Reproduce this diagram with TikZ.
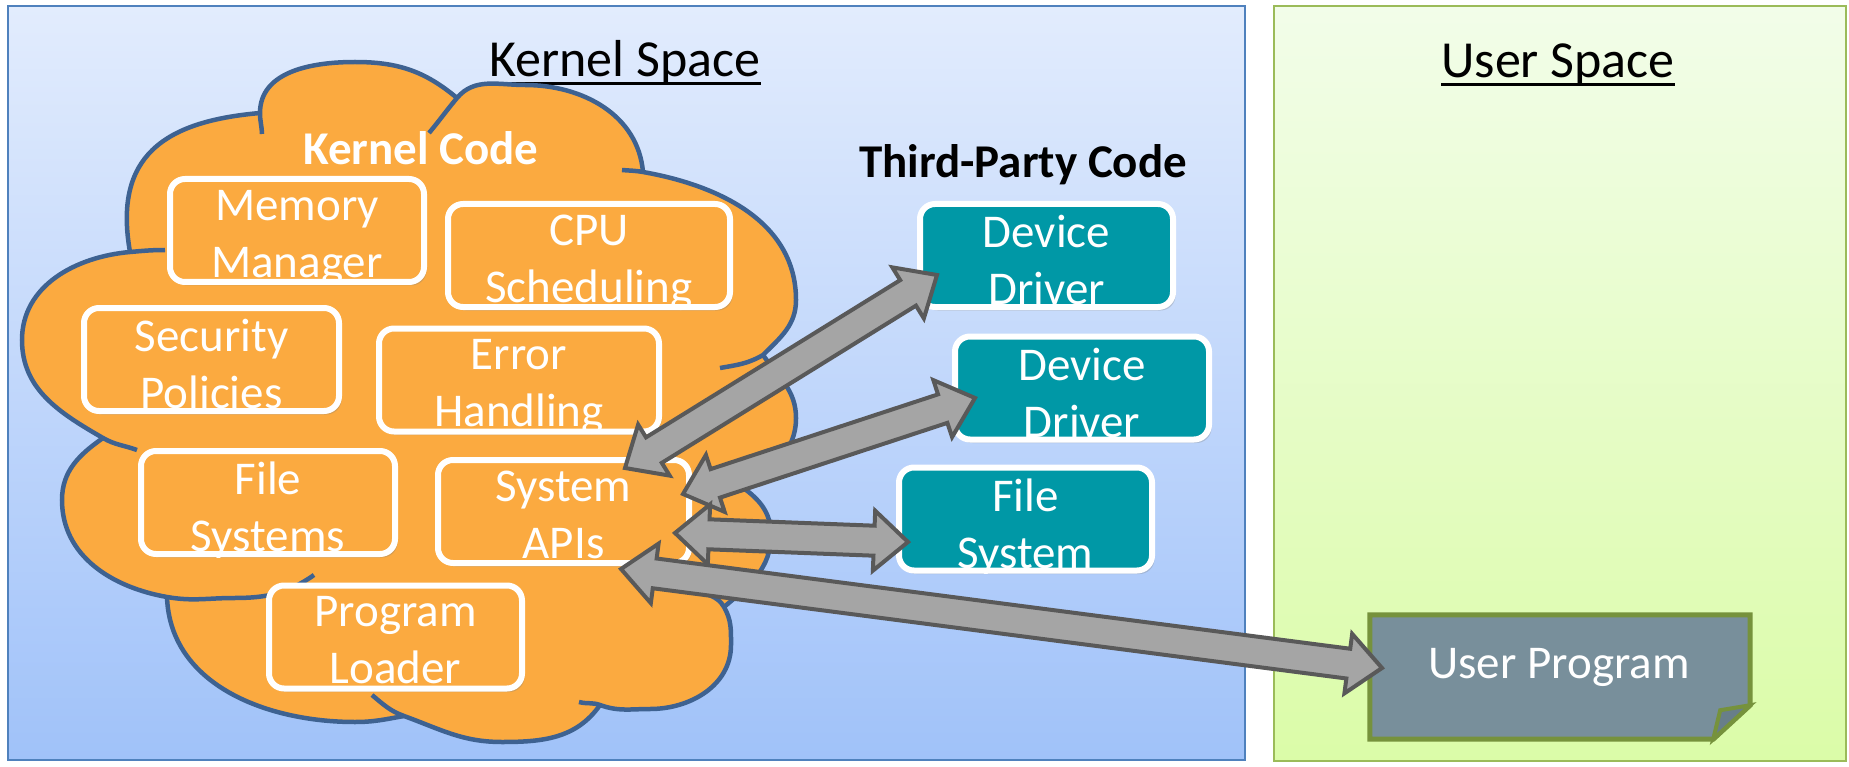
\documentclass[tikz,border=0pt]{standalone}
\usepackage{fontspec}
\setmainfont{Carlito}
\usetikzlibrary{calc,shadows}

\definecolor{kspTop}{RGB}{226,236,253}
\definecolor{kspBot}{RGB}{160,194,249}
\definecolor{kspLine}{RGB}{79,129,189}
\definecolor{uspTop}{RGB}{242,253,233}
\definecolor{uspBot}{RGB}{219,252,168}
\definecolor{uspLine}{RGB}{155,187,89}
\definecolor{cloudFill}{RGB}{251,170,64}
\definecolor{cloudLine}{RGB}{62,98,145}
\definecolor{tpTeal}{RGB}{0,152,166}
\definecolor{arrFill}{RGB}{165,165,165}
\definecolor{arrLine}{RGB}{89,89,89}
\definecolor{upFill}{RGB}{120,143,155}
\definecolor{upFold}{RGB}{104,126,138}
\definecolor{upLine}{RGB}{118,146,60}

\tikzset{
  panel/.style={inner sep=0pt, line width=2pt},
  title/.style={inner sep=0pt, anchor=base, font=\fontsize{52}{62}\selectfont},
  heading/.style={inner sep=0pt, anchor=base, font=\fontsize{47}{56}\selectfont\bfseries},
  modbox/.style={draw=white, line width=6pt, rounded corners=15pt, minimum height=103pt,
    inner sep=0pt, drop shadow={shadow xshift=2.5pt, shadow yshift=-3.5pt, opacity=0.3}},
  kbox/.style={modbox, fill=cloudFill},
  tbox/.style={modbox, fill=tpTeal},
  boxtext/.style={text=white, align=center, inner sep=0pt, anchor=north,
    font=\fontsize{47}{57}\selectfont},
  cloudedge/.style={draw=cloudLine, line width=4.5pt, line cap=butt},
  blockarrow/.style={draw=arrLine, fill=arrFill, line width=4pt, line join=miter},
}

% rounded module box with its label clipped to the box
\newcommand\modnode[6]{%
  \node[#1, minimum width=#5pt] (#2) at (#3,#4) {};
  \begin{scope}
    \clip[rounded corners=15pt] (#2.south west) rectangle (#2.north east);
    \node[boxtext] (#2-t) at ($(#2.north)+(0,14)$) {#6};
  \end{scope}}

% double-headed block arrow between two named points
\def\arrHL{34pt}
\def\arrHW{30pt}
\def\arrSW{15pt}
\newcommand\dblarrow[2]{%
  \draw[blockarrow] (#1)
    -- ($(#1)!\arrHL!(#2)!\arrHW!90:(#2)$)
    -- ($(#1)!\arrHL!(#2)!\arrSW!90:(#2)$)
    -- ($(#2)!\arrHL!(#1)!\arrSW!-90:(#1)$)
    -- ($(#2)!\arrHL!(#1)!\arrHW!-90:(#1)$)
    -- (#2)
    -- ($(#2)!\arrHL!(#1)!\arrHW!90:(#1)$)
    -- ($(#2)!\arrHL!(#1)!\arrSW!90:(#1)$)
    -- ($(#1)!\arrHL!(#2)!\arrSW!-90:(#2)$)
    -- ($(#1)!\arrHL!(#2)!\arrHW!-90:(#2)$)
    -- cycle;}

\begin{document}
\begin{tikzpicture}[x=1pt, y=-1pt]
\useasboundingbox (0,0) rectangle (1849,767);

% the two address spaces
\node[panel, draw=kspLine, top color=kspTop, bottom color=kspBot,
      minimum width=1237pt, minimum height=754pt] (kpanel) at (626.5,383) {};
\node[panel, draw=uspLine, top color=uspTop, bottom color=uspBot,
      minimum width=572pt, minimum height=755pt] (upanel) at (1560,383.5) {};

\node[title] (kst) at (625,77) {Kernel Space};
\draw[line width=3pt] ($(kst.base west)+(0,7)$) -- ($(kst.base east)+(0,7)$);
\node[title] (ust) at (1558,78) {User Space};
\draw[line width=3pt] ($(ust.base west)+(0,7)$) -- ($(ust.base east)+(0,7)$);

% kernel cloud: lobes meeting at cusps
\fill[cloudFill]
  (130,252) to[out=100, in=185, looseness=1.3] (260,113)
  to[out=90, in=180] (355,62) to[out=0, in=140] (457,98)
  to[out=50, in=180] (525,85) to[out=0, in=95] (643,172)
  to[out=-10, in=90] (796,300) to[out=-90, in=45] (763,355)
  to[out=-55, in=90] (796,418) to[out=-90, in=30] (742,487)
  to[out=-35, in=90] (771,535) to[out=-90, in=40] (724,607)
  to[out=-60, in=90] (731,645) to[out=-90, in=0] (650,709) to[out=180, in=-20] (600,705)
  to[out=-125, in=0] (502,742) to[out=180, in=-20] (404,716)
  to[out=-170, in=0] (355,722) to[out=180, in=-88] (167,597)
  to[out=170, in=-90] (62,500) to[out=90, in=-145] (103,438)
  to[out=150, in=-90] (22,340) to[out=90, in=185] (130,252)
  -- cycle;
% lobe arcs, some running a little past their cusps into the cloud
\draw[cloudedge] (130,252) to[out=100, in=185, looseness=1.3] (260,113);
\draw[cloudedge] (262,134) to[out=92, in=-90] (260,113)
  to[out=90, in=180] (355,62) to[out=0, in=140] (457,98);
\draw[cloudedge] (429,133) to[out=50, in=-130] (457,98)
  to[out=50, in=180] (525,85) to[out=0, in=95] (643,172);
\draw[cloudedge] (622,170) to[out=-5, in=170] (643,172)
  to[out=-10, in=90] (796,300) to[out=-90, in=45] (763,355)
  to[out=-150, in=10] (720,368);
\draw[cloudedge] (763,355) to[out=-55, in=90] (796,418) to[out=-90, in=30] (742,487);
\draw[cloudedge] (742,487) to[out=-35, in=90] (771,535) to[out=-90, in=40] (724,607);
\draw[cloudedge] (694,590) to[out=-20, in=120] (724,607)
  to[out=-60, in=90] (731,645) to[out=-90, in=0] (650,709) to[out=180, in=-20] (600,705)
  to[out=160, in=-15] (579,702);
\draw[cloudedge] (600,705) to[out=-125, in=0] (502,742) to[out=180, in=-20] (404,716)
  to[out=160, in=-40] (372,695);
\draw[cloudedge] (404,716) to[out=-170, in=0] (355,722) to[out=180, in=-88] (167,597);
\draw[cloudedge] (314,575) to[out=-145, in=0] (234,598) to[out=180, in=-10] (167,597)
  to[out=170, in=-90] (62,500) to[out=90, in=-145] (103,438);
\draw[cloudedge] (137,450) to[out=160, in=-30] (103,438)
  to[out=150, in=-90] (22,340) to[out=90, in=185] (130,252) to[out=5, in=180] (165,250);

\node[heading, text=white] (kct) at (421,165) {Kernel Code};
\node[heading] (tpt) at (1023,178) {Third-Party Code};

% kernel modules
\modnode{kbox}{mm}{297}{230.5}{254}{Memory\\Manager}
\modnode{kbox}{cpu}{589}{255.5}{282}{CPU\\Scheduling}
\modnode{kbox}{sp}{211.5}{359.5}{255}{Security\\Policies}
\modnode{kbox}{eh}{519}{380}{280}{Error\\Handling}
\modnode{kbox}{fs}{268}{502.5}{254}{File\\Systems}
\modnode{kbox}{sa}{563.5}{511.5}{251}{System\\APIs}
\modnode{kbox}{pl}{395.5}{637}{253}{Program\\Loader}

% third-party modules
\modnode{tbox}{dd1}{1046.5}{255.5}{253}{Device\\Driver}
\modnode{tbox}{dd2}{1082}{388}{254}{Device\\Driver}
\modnode{tbox}{fsys}{1025.5}{519}{253}{File\\System}

% user program (folded-corner note)
\node[inner sep=0pt, minimum width=380pt, minimum height=124pt] (up) at (1560,677) {};
\draw[draw=upLine, fill=upFill, line width=5pt, line join=miter]
  (up.north west) -- (up.north east) -- ($(up.south east)+(0,-34)$)
  -- ($(up.south east)+(-37,0)$) -- (up.south west) -- cycle;
\draw[draw=upLine, fill=upFold, line width=4pt, line join=miter]
  ($(up.south east)+(-37,0)$) -- ($(up.south east)+(-30,-29)$)
  -- ($(up.south east)+(0,-34)$) -- cycle;
\node[text=white, inner sep=0pt, anchor=base, font=\fontsize{47}{57}\selectfont]
  (upt) at (1559,678) {User Program};

% system call paths
\coordinate (a1k) at (625,468);  \coordinate (a1d) at (937,275);
\coordinate (a2k) at (683,494);  \coordinate (a2d) at (975,398);
\coordinate (a3k) at (675,533);  \coordinate (a3d) at (908,542);
\coordinate (a4k) at (621,569);  \coordinate (a4u) at (1382,668);
\dblarrow{a1k}{a1d}
\dblarrow{a2k}{a2d}
\dblarrow{a3k}{a3d}
\dblarrow{a4k}{a4u}
\end{tikzpicture}
\end{document}
